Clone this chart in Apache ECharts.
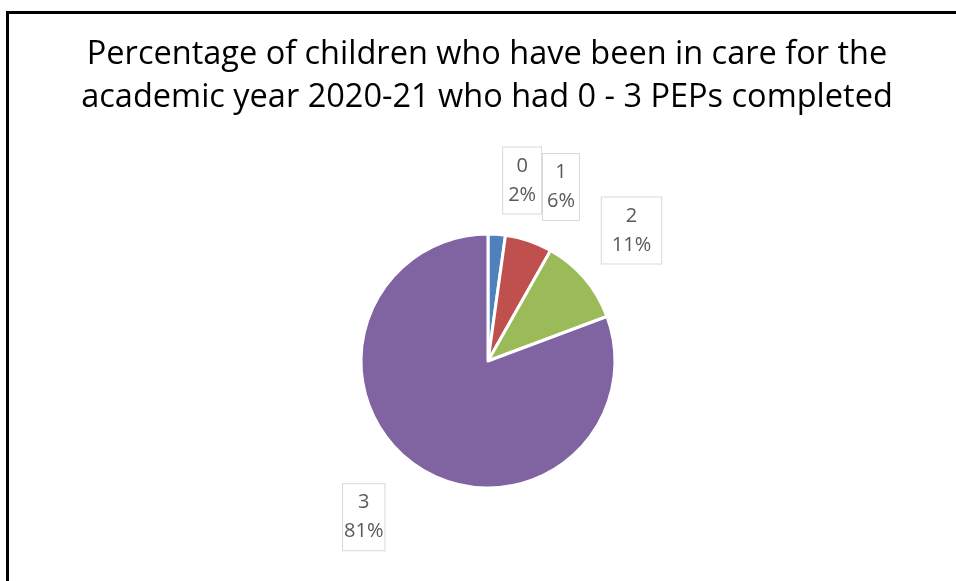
<!DOCTYPE html>
<html>
<head>
<meta charset="utf-8">
<script src="https://cdn.jsdelivr.net/npm/echarts@6/dist/echarts.min.js"></script>
<style>html,body{margin:0;padding:0;background:#fff}#c{width:956px;height:581px}</style>
</head>
<body>
<div id="c"></div>
<script>
var titleLines = ['Percentage of children who have been in care for the', 'academic year 2020-21 who had 0 - 3 PEPs completed'];
var categories = ['0', '1', '2', '3'];
var values = [2.2, 6.0, 11.1, 80.7];
var colors = ['#4F81BD', '#C0504D', '#9BBB59', '#8064A2'];

var CX = 488, CY = 361, R = 127, LR = 190;
var labelOffsets = [[21, 9], [12, 6], [-1, -7], [-16, 0]];
var labelPad = [[4, 5], [4, 4], [4, 10], [4, 1]];

var total = values.reduce(function (a, b) { return a + b; }, 0);
var mids = [];
var acc = 0;
values.forEach(function (v) { mids.push((acc + v / 2) / total * 2 * Math.PI); acc += v; });

var chart = echarts.init(document.getElementById('c'), null, {renderer: 'canvas'});
chart.setOption({
  backgroundColor: '#fff',
  animation: false,
  graphic: [
    {type: 'line', shape: {x1: 7.5, y1: 11, x2: 7.5, y2: 600}, style: {stroke: '#000', lineWidth: 3}, z: 100},
    {type: 'line', shape: {x1: 6, y1: 12.5, x2: 980, y2: 12.5}, style: {stroke: '#000', lineWidth: 3}, z: 100},
    {type: 'text', x: 487, y: 33, style: {text: titleLines.join('\n'), font: '32.5px "Open Sans"', fill: '#000', align: 'center', lineHeight: 43}}
  ],
  series: [{
    type: 'pie',
    center: [CX, CY],
    radius: [0, R],
    startAngle: 90,
    clockwise: true,
    percentPrecision: 0,
    itemStyle: {borderColor: '#fff', borderWidth: 3},
    labelLine: {show: false},
    label: {
      show: true,
      position: 'outside',
      formatter: '{b}\n{d}%',
      color: '#595959',
      fontFamily: 'Open Sans',
      fontSize: 20,
      lineHeight: 29,
      backgroundColor: '#fff',
      borderColor: '#D9D9D9',
      borderWidth: 1,
      align: 'center'
    },
    labelLayout: function (p) {
      var i = p.dataIndex;
      var a = mids[i];
      return {
        x: CX + Math.sin(a) * LR + labelOffsets[i][0],
        y: CY - Math.cos(a) * LR + labelOffsets[i][1],
        align: 'center',
        verticalAlign: 'middle',
        hideOverlap: false
      };
    },
    data: categories.map(function (c, i) {
      return {name: c, value: values[i], itemStyle: {color: colors[i]}, label: {padding: labelPad[i]}};
    })
  }]
});
</script>
</body>
</html>
